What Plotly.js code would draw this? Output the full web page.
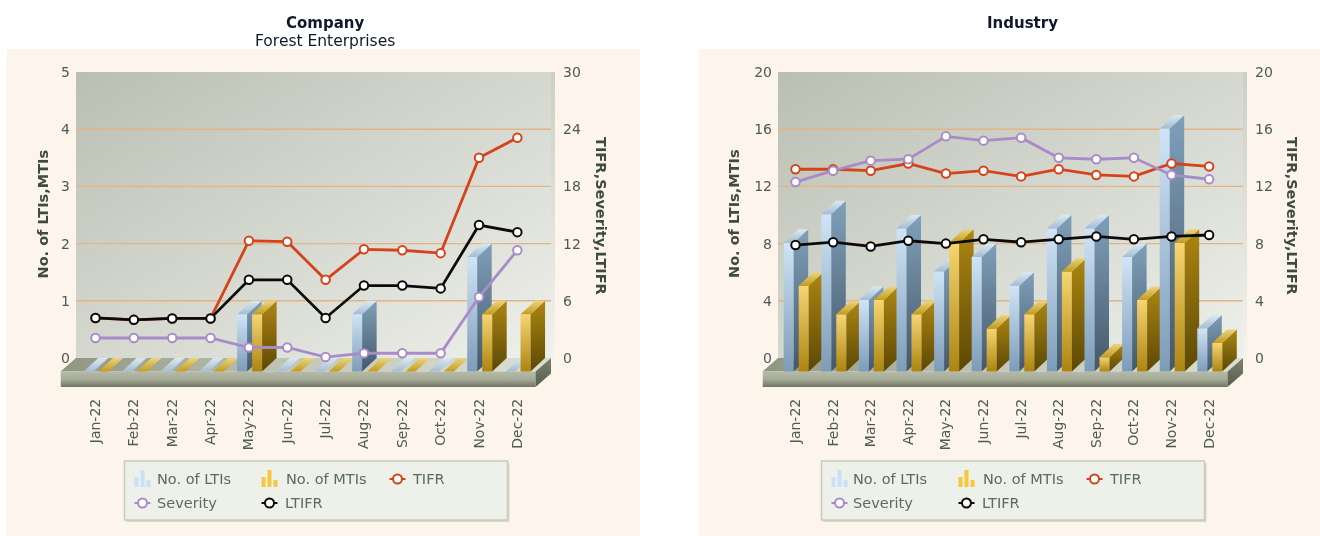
<!DOCTYPE html>
<html><head><meta charset="utf-8">
<script src="https://cdn.plot.ly/plotly-3.0.1.min.js"></script>
<style>html,body{margin:0;padding:0;background:#fff;overflow:hidden}#chart{width:1320px;height:536px;filter:blur(0.3px)}</style>
</head><body><div id="chart"></div>
<script>
const months = ['Jan-22','Feb-22','Mar-22','Apr-22','May-22','Jun-22','Jul-22','Aug-22','Sep-22','Oct-22','Nov-22','Dec-22'];

const companyLTIs     = [0,0,0,0,1,0,0,1,0,0,2,0];
const companyMTIs     = [0,0,0,0,1,0,0,0,0,0,1,1];
const companyTIFR     = [4.2,4.0,4.15,4.15,12.3,12.2,8.2,11.4,11.3,11.0,21.0,23.1];
const companySeverity = [2.1,2.1,2.1,2.1,1.1,1.1,0.1,0.5,0.5,0.5,6.4,11.3];
const companyLTIFR    = [4.2,4.0,4.15,4.15,8.2,8.2,4.2,7.6,7.6,7.3,13.95,13.2];

const industryLTIs     = [9,11,5,10,7,8,6,10,10,8,17,3];
const industryMTIs     = [6,4,5,4,9,3,4,7,1,5,9,2];
const industryTIFR     = [13.2,13.2,13.1,13.6,12.9,13.1,12.7,13.2,12.8,12.7,13.6,13.4];
const industrySeverity = [12.3,13.1,13.8,13.9,15.5,15.2,15.4,14.0,13.9,14.0,12.8,12.5];
const industryLTIFR    = [7.9,8.1,7.8,8.2,8.0,8.3,8.1,8.3,8.5,8.3,8.5,8.6];

const companyLeftTicks = [0,1,2,3,4,5];
const companyRightTicks = [0,6,12,18,24,30];
const industryLeftTicks = [0,4,8,12,16,20];
const industryRightTicks = [0,4,8,12,16,20];

const W = 1320, H = 536;
const TOP = 72, ZERO = 358, BOTTOM = 387, DY = 13.5, DX = 14.5, FLOOR = 15.5;
const FONT = '"DejaVu Sans", Verdana, sans-serif';
const TXT = '#4d5b52';
const px = x => x / W, py = y => 1 - y / H;

const LTI = {front:['#cfe4f7','#7d9cb8'], side:['#7fa0ba','#45586a'], top:['#dbe8f2','#a3bdd2']};
const MTI = {front:['#f6d672','#ad8410'], side:['#ad8612','#5c4805'], top:['#ecd47f','#c49c1c']};

const svgUri = s => 'data:image/svg+xml,' + encodeURIComponent(s);
function gradSvg(c0, c1, x2, y2) {
  return svgUri(`<svg xmlns="http://www.w3.org/2000/svg" width="100" height="100" preserveAspectRatio="none"><defs><linearGradient id="g" x1="0" y1="0" x2="${x2}" y2="${y2}"><stop offset="0" stop-color="${c0}"/><stop offset="1" stop-color="${c1}"/></linearGradient></defs><rect width="100" height="100" fill="url(#g)"/></svg>`);
}
const pxImage = (source, x0, y0, x1, y1) => ({source, xref:'paper', yref:'paper', x:px(x0), y:py(y0), sizex:(x1-x0)/W, sizey:(y1-y0)/H, sizing:'stretch', xanchor:'left', yanchor:'top', layer:'below'});

const traces = [], shapes = [], annotations = [], images = [];
const layout = {
  width:W, height:H, margin:{l:0,r:0,t:0,b:0}, paper_bgcolor:'rgba(0,0,0,0)', plot_bgcolor:'rgba(0,0,0,0)',
  showlegend:false, hovermode:'closest', font:{family:FONT, color:TXT, size:13}, shapes, annotations, images
};

function poly(xa, ya, xs, ys, colors, orient) {
  const o = orient || 'vertical';
  const cs = o === 'vertical' ? colors.slice().reverse() : colors;   // colours are listed top to bottom / left to right
  traces.push({type:'scatter', mode:'lines', xaxis:xa, yaxis:ya, x:xs, y:ys, fill:'toself', line:{width:0}, hoverinfo:'skip', showlegend:false,
    fillcolor:colors[0],
    fillgradient:{type:o, colorscale:cs.map((c,i)=>[i/(cs.length-1), c])}});
}

function addChart(o) {
  const ppu = (ZERO - TOP) / o.leftMax, ppuR = (ZERO - TOP) / o.rightMax;
  const xUnit = p => (p - o.c0) / o.step;           // pixel x -> month index
  const dx = DX / o.step, dy = DY / ppu;
  const ax = o.n === 1 ? '' : '2';
  const yL = o.n === 1 ? 'y' : 'y3', yR = o.n === 1 ? 'y2' : 'y4';
  const yLk = o.n === 1 ? 'yaxis' : 'yaxis3', yRk = o.n === 1 ? 'yaxis2' : 'yaxis4';
  const xa = 'x' + ax;
  const plotL = o.x0 - FLOOR;

  layout['xaxis' + ax] = {domain:[px(plotL), px(o.x1)], range:[xUnit(plotL), xUnit(o.x1)], anchor:yL, tickmode:'array',
    tickvals:months.map((m,i)=>i), ticktext:months, tickangle:-90, ticks:'', showgrid:false, zeroline:false, showline:false,
    ticklabelstandoff:8, tickfont:{family:FONT, size:14, color:TXT}};
  const yBase = {domain:[py(BOTTOM), py(TOP)], ticks:'', zeroline:false, showline:false, showgrid:false};
  layout[yLk] = Object.assign({}, yBase, {anchor:'free', position:px(o.x0), range:[-(BOTTOM-ZERO)/ppu, o.leftMax], tickmode:'array', tickvals:o.leftTicks, ticktext:o.leftTicks.map(String),
    ticklabelstandoff:6, tickfont:{family:FONT, size:14, color:TXT}});
  layout[yRk] = Object.assign({}, yBase, {anchor:xa, range:[-(BOTTOM-ZERO)/ppuR, o.rightMax], tickmode:'array', tickvals:o.rightTicks, ticktext:o.rightTicks.map(String),
    overlaying:yL, side:'right', ticklabelstandoff:11, tickfont:{family:FONT, size:14, color:TXT}});

  // panel, wall, wall edge
  images.push(pxImage(gradSvg('#fdf4ec','#fdf4ec',1,1), o.panel[0], 49, o.panel[1], 536));
  images.push(pxImage(gradSvg('#babfb3','#eef0ea',1,1), o.x0, TOP, o.x1, ZERO));
  images.push(pxImage(gradSvg('#cbcfc5','#f4f4ee',0,1), o.x1, TOP, o.x1+4, ZERO+2));

  // wall grid
  const bL = xUnit(o.x0), bR = xUnit(o.x1);
  o.leftTicks.slice(1,-1).forEach(v => shapes.push({type:'line', xref:xa, yref:yL, layer:'below', x0:bL, x1:bR, y0:v, y1:v, line:{color:'#e2b486', width:1.4}}));

  // floor
  const fL = xUnit(plotL), fR = xUnit(o.x1-FLOOR);
  const fTop = -DY/ppu, fBot = -(BOTTOM-ZERO)/ppu;
  poly(xa, yL, [fL,bL,bR,fR,fL], [fTop,0,0,fTop,fTop], ['#8f9581','#c3c8b9','#dadfd3'], 'horizontal');
  poly(xa, yL, [fL,fR,fR,fL,fL], [fTop,fTop,fBot,fBot,fTop], ['#b6bba9','#a5ab97','#6f7561']);
  poly(xa, yL, [fR,bR,bR,fR,fR], [fTop,0,(fBot-fTop),fBot,fTop], ['#7d8270','#585c4c']);

  // bars
  const w = 10 / o.step;
  months.forEach((m, i) => {
    [[o.lti, LTI, -11.8/o.step], [o.mti, MTI, 3.2/o.step]].forEach(([vals, st, off]) => {
      const v = vals[i], l = i + off, r = l + w;
      const base = -dy, top = v - dy;
      if (v > 0) {
        poly(xa, yL, [l,r,r,l,l], [top,top,base,base,top], st.front);
        poly(xa, yL, [r,r+dx,r+dx,r,r], [top,v,0,base,top], st.side);
      }
      poly(xa, yL, [l,r,r+dx,l+dx,l], [top,top,v,v,top], st.top);
    });
  });

  // lines
  [['TIFR', o.tifr, '#d5431b'], ['Severity', o.sev, '#a98bc8'], ['LTIFR', o.ltifr, '#0b0b0b']].forEach(([name, vals, c]) => {
    traces.push({type:'scatter', mode:'lines+markers', name, xaxis:xa, yaxis:yR, x:months.map((m,i)=>i), y:vals, showlegend:false,
      line:{color:c, width:2.8}, marker:{color:'#fff', size:8.5, line:{color:c, width:2}}});
  });

  // titles
  const tA = (text, x, y, size, bold, angle) => annotations.push({xref:'paper', yref:'paper', x:px(x), y:py(y), xanchor:'center', yanchor:'middle', showarrow:false,
    textangle:angle||0, text:bold?`<b>${text}</b>`:text, font:{family:FONT, size, color: angle ? '#3f4a40' : '#10182a'}});
  tA(o.title, o.titleX, 23, 15, true);
  if (o.subtitle) tA(o.subtitle, o.titleX, 41, 15.5, false);
  tA('No. of LTIs,MTIs', o.leftTitleX, 214, 14.5, true, -90);
  tA('TIFR,Severity,LTIFR', o.rightTitleX, 216, 14.5, true, 90);

  // legend
  const L = o.legendX;
  const R = (x0,y0,x1,y1,fill,line) => shapes.push({type:'rect', xref:'paper', yref:'paper', layer:'above', x0:px(x0), x1:px(x1), y0:py(y0), y1:py(y1), fillcolor:fill, line:line||{width:0}});
  R(L+2, 463, L+385, 522, 'rgba(120,120,100,0.25)');
  R(L, 461, L+383, 520, '#eef0ea', {color:'#c6ccb9', width:1.5});
  const barIcon = (x, c) => { R(x,477,x+4,487,c); R(x+6,470,x+10,487,c); R(x+12,480,x+16,487,c); };
  const lineIcon = (x, y, c) => {
    shapes.push({type:'line', xref:'paper', yref:'paper', layer:'above', x0:px(x), x1:px(x+16), y0:py(y), y1:py(y), line:{color:c, width:2}});
    shapes.push({type:'circle', xref:'paper', yref:'paper', layer:'above', x0:px(x+3.5), x1:px(x+12.5), y0:py(y-4.5), y1:py(y+4.5), fillcolor:'#fff', line:{color:c, width:2}});
  };
  const lText = (t, x, y) => annotations.push({xref:'paper', yref:'paper', x:px(x), y:py(y), xanchor:'left', yanchor:'middle', showarrow:false, text:t, font:{family:FONT, size:14.5, color:'#5a6b60'}});
  barIcon(L+10, '#c8e1f8'); lText('No. of LTIs', L+30, 479);
  barIcon(L+137, '#f7c63c'); lText('No. of MTIs', L+159, 479);
  lineIcon(L+265, 479, '#d5431b'); lText('TIFR', L+285, 479);
  lineIcon(L+10, 503, '#a98bc8'); lText('Severity', L+30, 503);
  lineIcon(L+137, 503, '#0b0b0b'); lText('LTIFR', L+158, 503);
}

addChart({n:1, title:'Company', subtitle:'Forest Enterprises', titleX:324.5, x0:76, x1:551, c0:95.5, step:38.35, panel:[7,640],
  leftMax:5, rightMax:30, leftTicks:companyLeftTicks, rightTicks:companyRightTicks,
  lti:companyLTIs, mti:companyMTIs, tifr:companyTIFR, sev:companySeverity, ltifr:companyLTIFR,
  leftTitleX:42.5, rightTitleX:601, legendX:124.5});
addChart({n:2, title:'Industry', titleX:1022, x0:778, x1:1243, c0:795.5, step:37.6, panel:[699,1320],
  leftMax:20, rightMax:20, leftTicks:industryLeftTicks, rightTicks:industryRightTicks,
  lti:industryLTIs, mti:industryMTIs, tifr:industryTIFR, sev:industrySeverity, ltifr:industryLTIFR,
  leftTitleX:734, rightTitleX:1292, legendX:821.5});

Plotly.newPlot('chart', traces, layout, {displayModeBar:false, responsive:false});
</script></body></html>
